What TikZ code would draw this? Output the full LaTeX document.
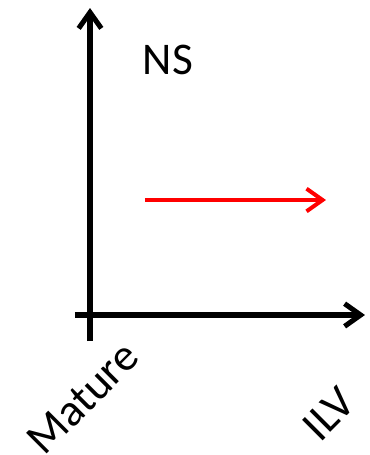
\documentclass[tikz,border=0pt]{standalone}
\usepackage{fontspec}
\setmainfont{Carlito}
\usetikzlibrary{arrows.meta}
\begin{document}
\begin{tikzpicture}[x=0.75pt,y=-0.75pt,
  axis/.style={line width=3.8pt,-{Straight Barb[length=12pt,width=17pt,line width=3.8pt]}},
  redarrow/.style={draw=red,line width=3pt,-{Straight Barb[length=12pt,width=17pt,line width=3pt]}},
  lbl/.style={font=\fontsize{34}{40}\selectfont,inner sep=0pt}]
\useasboundingbox (0,0) rectangle (370,455);
\coordinate (yb) at (90,341);
\coordinate (yt) at (90,8);
\coordinate (xl) at (75,315);
\coordinate (xr) at (365,315);
\coordinate (rs) at (145,200);
\coordinate (re) at (326,200);
\draw[axis] (yb) -- (yt);
\draw[axis] (xl) -- (xr);
\draw[redarrow] (rs) -- (re);
\node[lbl] (ns) at (168,60) {NS};
\node[lbl,rotate=45] (mature) at (83,398) {Mature};
\node[lbl,rotate=45] (ilv) at (329,414) {ILV};
\end{tikzpicture}
\end{document}
